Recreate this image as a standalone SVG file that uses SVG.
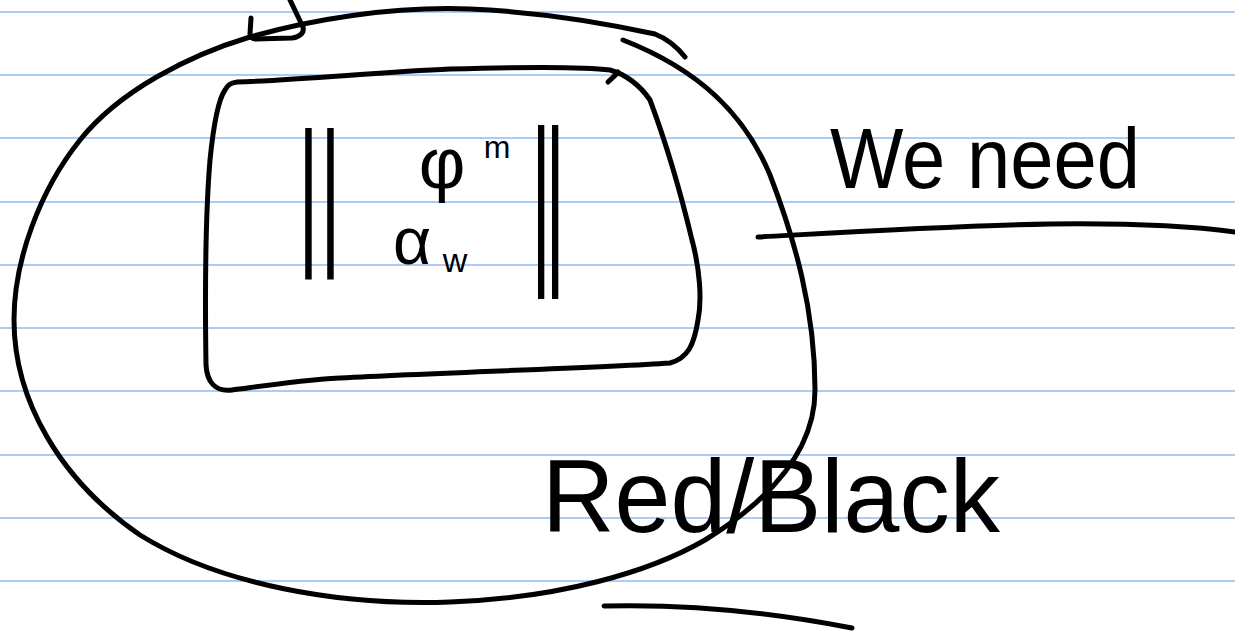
<svg xmlns="http://www.w3.org/2000/svg" width="1235" height="632" viewBox="0 0 1235 632">
<style>
.rule{stroke:#a9cdf4;stroke-width:2;fill:none}
.ink{fill:none;stroke:#000;stroke-width:5;stroke-linecap:round;stroke-linejoin:round}
.hand{font-family:"Liberation Sans",Arial,sans-serif;fill:#000}
</style>
<rect width="1235" height="632" fill="#fff"/>
<g id="paper-lines">
<line class="rule" x1="0" y1="12" x2="1235" y2="12"/>
<line class="rule" x1="0" y1="75" x2="1235" y2="75"/>
<line class="rule" x1="0" y1="138" x2="1235" y2="138"/>
<line class="rule" x1="0" y1="202" x2="1235" y2="202"/>
<line class="rule" x1="0" y1="265" x2="1235" y2="265"/>
<line class="rule" x1="0" y1="328" x2="1235" y2="328"/>
<line class="rule" x1="0" y1="391" x2="1235" y2="391"/>
<line class="rule" x1="0" y1="455" x2="1235" y2="455"/>
<line class="rule" x1="0" y1="518" x2="1235" y2="518"/>
<line class="rule" x1="0" y1="581" x2="1235" y2="581"/>
</g>
<g id="outer-loop">
<path class="ink" d="M685,57 C678,48 670,40 655,34 C600,22 540,12 470,9 C390,6 310,20 250,37 C190,55 120,90 80,140 C40,190 14,260 14,320 C14,400 60,480 140,535 C220,585 340,606 450,602 C560,598 650,572 705,540 C770,500 815,450 815,390 C815,310 795,240 770,175 C745,115 700,70 623,40"/>
<path class="ink" d="M290,0 L302,25 C306,32 300,37 292,38 L255,39 C250,38 250,36 250,34 M251,18 L250,34"/>
</g>
<g id="inner-box">
<path class="ink" d="M237,82 C300,80 380,72 450,69 C520,67 580,66 610,70 C625,74 640,85 650,100 C665,140 680,190 692,240 C700,270 702,300 698,320 C694,345 688,358 670,363 C600,368 450,372 340,378 C290,381 250,388 232,390 C215,392 207,382 206,365 C205,300 205,220 210,160 C213,130 218,100 225,90 C228,85 230,83 237,82"/>
<path class="ink" d="M608,82 C612,78 616,75 618,72"/>
<text class="hand" font-size="161" text-anchor="middle" letter-spacing="2" transform="translate(320,245) scale(0.5,1)">||</text>
<text class="hand" font-size="186" text-anchor="middle" letter-spacing="-15" transform="translate(545,260) scale(0.42,1)">||</text>
<text class="hand" x="442" y="188" font-size="72" text-anchor="middle">φ</text>
<text class="hand" x="497" y="158" font-size="32" text-anchor="middle">m</text>
<text class="hand" x="412" y="264" font-size="66" text-anchor="middle">α</text>
<text class="hand" x="455" y="272" font-size="34" text-anchor="middle">w</text>
</g>
<g id="connectors">
<path class="ink" d="M758,237 C850,232 950,226 1050,224 C1130,223 1190,226 1235,232"/>
<path class="ink" d="M604,606 C680,604 760,610 852,628"/>
</g>
<g id="label-we-need">
<text class="hand" x="830" y="188" font-size="86" textLength="310" lengthAdjust="spacingAndGlyphs">We need</text>
</g>
<g id="label-red-black">
<text class="hand" x="542" y="532" font-size="104" textLength="458" lengthAdjust="spacingAndGlyphs">Red/Black</text>
</g>
</svg>
